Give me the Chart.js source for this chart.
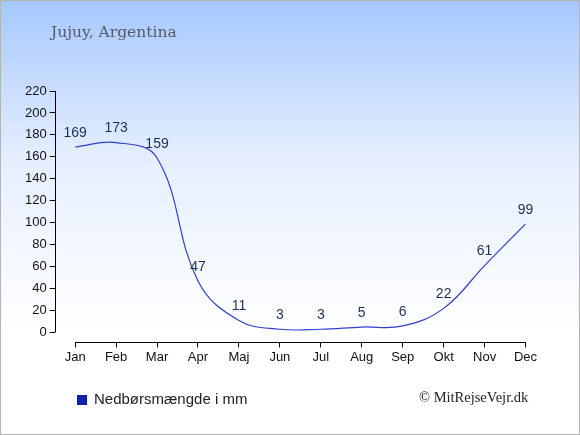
<!DOCTYPE html>
<html>
<head>
<meta charset="utf-8">
<script src="https://cdn.jsdelivr.net/npm/chart.js@4/dist/chart.umd.min.js"></script>
<style>
  html, body { margin: 0; padding: 0; }
  #wrap {
    position: relative;
    width: 578px;
    height: 433px;
    border: 1px solid #b4b4b4;
    background: linear-gradient(to bottom, #a6c8ff 0px, #e6efff 160px, #ffffff 330px, #ffffff 433px);
    overflow: hidden;
  }
  #chart { position: absolute; left: 0; top: 0; }
  #title {
    position: absolute; left: 50px; top: 22px;
    font-family: "DejaVu Serif", "Liberation Serif", serif;
    font-size: 15.5px; color: #555a66;
  }
  #legend {
    position: absolute; left: 76px; top: 389px;
    font-family: "Liberation Sans", Arial, sans-serif;
    font-size: 15px; color: #222;
  }
  #legend span.box {
    display: inline-block; width: 10px; height: 10px;
    background: #0a1fb4; margin-right: 7px; vertical-align: -1px;
  }
  #copy {
    position: absolute; left: 418px; top: 388px;
    font-family: "Liberation Serif", "DejaVu Serif", serif;
    font-size: 14.5px; color: #222;
  }
</style>
</head>
<body>
<div id="wrap">
  <canvas id="chart" width="578" height="433"></canvas>
  <div id="title">Jujuy, Argentina</div>
  <div id="legend"><span class="box"></span>Nedbørsmængde i mm</div>
  <div id="copy">© MitRejseVejr.dk</div>
</div>
<script>
const MONTHS = ["Jan", "Feb", "Mar", "Apr", "Maj", "Jun", "Jul", "Aug", "Sep", "Okt", "Nov", "Dec"];
const RAINFALL = [169, 173, 159, 47, 11, 3, 3, 5, 6, 22, 61, 99];
const Y_TICKS = [0, 20, 40, 60, 80, 100, 120, 140, 160, 180, 200, 220];
const Y_MIN = -9;
const Y_MAX = 220;
const LINE_COLOR = "#3140cc";
const AXIS_COLOR = "#000";
const LABEL_COLOR = "#1e2f55";

// axis lines: y from 0 to max, x from first to last month
const axisLines = {
  id: "axisLines",
  afterDraw(chart) {
    const ctx = chart.ctx;
    const x = chart.scales.x;
    const y = chart.scales.y;
    ctx.save();
    ctx.strokeStyle = AXIS_COLOR;
    ctx.lineWidth = 1;
    ctx.beginPath();
    const left = Math.round(chart.chartArea.left) + 0.5;
    ctx.moveTo(left, y.getPixelForValue(0));
    ctx.lineTo(left, y.getPixelForValue(Y_MAX));
    const bottom = Math.round(chart.chartArea.bottom) + 0.5;
    ctx.moveTo(x.getPixelForValue(0), bottom);
    ctx.lineTo(x.getPixelForValue(MONTHS.length - 1), bottom);
    ctx.stroke();
    ctx.restore();
  },
};

// value labels above each point
const valueLabels = {
  id: "valueLabels",
  afterDatasetsDraw(chart) {
    const ctx = chart.ctx;
    const meta = chart.getDatasetMeta(0);
    ctx.save();
    ctx.font = "14px 'Liberation Sans', Arial, sans-serif";
    ctx.fillStyle = LABEL_COLOR;
    ctx.textAlign = "center";
    ctx.textBaseline = "middle";
    meta.data.forEach((pt, i) => {
      ctx.fillText(String(RAINFALL[i]), pt.x, pt.y - 14);
    });
    ctx.restore();
  },
};

const config = {
  type: "line",
  data: {
    labels: MONTHS,
    datasets: [
      {
        label: "Nedbørsmængde i mm",
        data: RAINFALL,
        borderColor: LINE_COLOR,
        borderWidth: 1.2,
        fill: false,
        tension: 0.4,
        pointRadius: 0,
      },
    ],
  },
  options: {
    responsive: false,
    animation: false,
    layout: { padding: { left: 21, right: 33, top: 90, bottom: 67 } },
    plugins: {
      legend: { display: false },
      tooltip: { enabled: false },
    },
    scales: {
      x: {
        offset: true,
        border: { display: false },
        grid: {
          offset: false,
          drawOnChartArea: false,
          drawTicks: true,
          tickLength: 5,
          color: AXIS_COLOR,
        },
        ticks: {
          color: "#111",
          padding: 2,
          maxRotation: 0,
          font: { family: "'Liberation Sans', Arial, sans-serif", size: 13 },
        },
      },
      y: {
        min: Y_MIN,
        max: Y_MAX,
        border: { display: false },
        afterBuildTicks(scale) {
          scale.ticks = Y_TICKS.map((v) => ({ value: v }));
        },
        grid: {
          drawOnChartArea: false,
          drawTicks: true,
          tickLength: 5,
          color: AXIS_COLOR,
        },
        ticks: {
          color: "#111",
          padding: 3,
          font: { family: "'Liberation Sans', Arial, sans-serif", size: 13 },
        },
      },
    },
  },
  plugins: [axisLines, valueLabels],
};

let chart = new Chart(document.getElementById("chart"), config);
</script>
</body>
</html>
